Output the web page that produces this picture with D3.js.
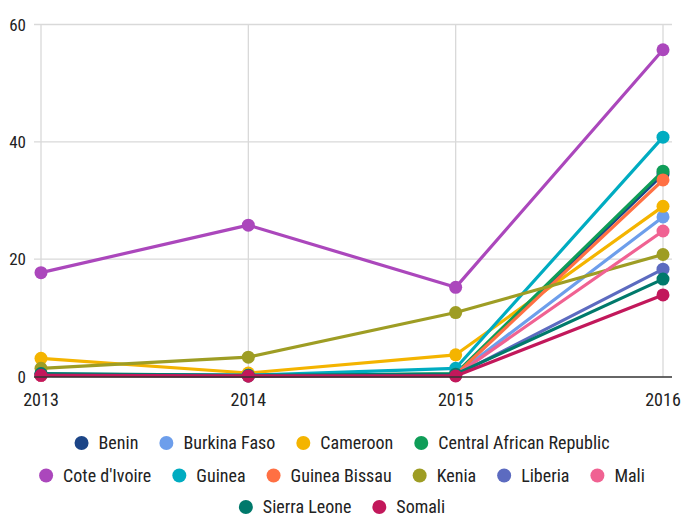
<!DOCTYPE html>
<html>
<head>
<meta charset="utf-8">
<script src="https://cdn.jsdelivr.net/npm/d3@7"></script>
<style>
  body { margin: 0; background: #fff; }
  svg text { font-family: "Roboto Condensed", "Liberation Sans Narrow", "DejaVu Sans Condensed", Roboto, sans-serif; fill: #222; }
</style>
</head>
<body>
<svg width="684" height="518" class="chart"></svg>
<script>

var years = [2013, 2014, 2015, 2016];
var yTicks = [0, 20, 40, 60];

var countries = ["Benin", "Burkina Faso", "Cameroon", "Central African Republic",
    "Cote d'Ivoire", "Guinea", "Guinea Bissau", "Kenia", "Liberia", "Mali",
    "Sierra Leone", "Somali"];

var colors = ["#1c4587", "#6d9eeb", "#f4b400", "#0f9d58", "#ab47bc", "#00acc1",
    "#ff7043", "#9e9d24", "#5c6bc0", "#f06292", "#00796b", "#c2185b"];

var benin          = [0.3, 0.2, 0.3, 34.5];
var burkinaFaso    = [0.2, 0.1, 0.3, 27.2];
var cameroon       = [3.1, 0.6, 3.7, 29.0];
var centralAfrica  = [0.3, 0.1, 0.5, 35.0];
var coteDIvoire    = [17.7, 25.8, 15.2, 55.7];
var guinea         = [0.4, 0.2, 1.4, 40.8];
var guineaBissau   = [0.2, 0.1, 0.3, 33.5];
var kenia          = [1.4, 3.3, 10.9, 20.8];
var liberia        = [0.3, 0.1, 0.2, 18.3];
var mali           = [0.2, 0.1, 0.2, 24.8];
var sierraLeone    = [0.5, 0.2, 0.4, 16.6];
var somali         = [0.2, 0.1, 0.1, 13.9];

var values = [benin, burkinaFaso, cameroon, centralAfrica, coteDIvoire, guinea,
    guineaBissau, kenia, liberia, mali, sierraLeone, somali];

var series = countries.map(function(c, i){
    return { name: c, color: colors[i], points: values[i].map(function(v, j){ return { year: years[j], value: v } }) }
})

var svg = d3.select("svg.chart");

var x = d3.scaleLinear().domain([2013, 2016]).range([41, 663]);
var y = d3.scaleLinear().domain([0, 60]).range([376.5, 24.5]);

var gridLeft = 34, gridRight = 672;

// horizontal grid
svg.append("g").selectAll("line")
    .data(yTicks.filter(function(d){ return d > 0 }))
    .enter().append("line")
    .attr("x1", gridLeft).attr("x2", gridRight)
    .attr("y1", function(d){ return y(d) }).attr("y2", function(d){ return y(d) })
    .attr("stroke", "#d9d9d9").attr("stroke-width", 1.3);

// vertical grid
svg.append("g").selectAll("line")
    .data(years)
    .enter().append("line")
    .attr("x1", function(d){ return x(d) }).attr("x2", function(d){ return x(d) })
    .attr("y1", y(60)).attr("y2", y(0))
    .attr("stroke", "#d9d9d9").attr("stroke-width", 1.3);

// y labels
svg.append("g").selectAll("text")
    .data(yTicks)
    .enter().append("text")
    .attr("x", 26)
    .attr("y", function(d){ return y(d) })
    .attr("dy", "0.36em")
    .attr("text-anchor", "end")
    .style("font-size", "17px")
    .text(function(d){ return d });

// x labels
svg.append("g").selectAll("text")
    .data(years)
    .enter().append("text")
    .attr("x", function(d){ return x(d) })
    .attr("y", 406)
    .attr("text-anchor", "middle")
    .style("font-size", "18px")
    .text(function(d){ return d });

var line = d3.line()
    .x(function(d){ return x(d.year) })
    .y(function(d){ return y(d.value) });

var g = svg.append("g");
series.forEach(function(s){
    var sg = g.append("g");
    sg.append("path")
        .datum(s.points)
        .attr("fill", "none")
        .attr("stroke", s.color)
        .attr("stroke-width", 3.2)
        .attr("stroke-linejoin", "round")
        .attr("d", line);
    sg.selectAll("circle")
        .data(s.points)
        .enter().append("circle")
        .attr("cx", function(d){ return x(d.year) })
        .attr("cy", function(d){ return y(d.value) })
        .attr("r", 6.5)
        .attr("fill", s.color);
});

// baseline
svg.append("line")
    .attr("x1", gridLeft).attr("x2", gridRight)
    .attr("y1", y(0) + 0.5).attr("y2", y(0) + 0.5)
    .attr("stroke", "#333").attr("stroke-width", 1.3);

// legend
var legendRows = [[0, 1, 2, 3], [4, 5, 6, 7, 8, 9], [10, 11]];
var rowY = [443, 475.5, 507];
var legend = svg.append("g");
var r = 7, textGap = 10, itemGap = 21;

legendRows.forEach(function(row, ri){
    var items = row.map(function(i){
        var t = legend.append("text")
            .style("font-size", "18px")
            .attr("dy", "0.35em")
            .attr("y", rowY[ri])
            .text(countries[i]);
        return { i: i, t: t, w: t.node().getComputedTextLength() };
    });
    var total = d3.sum(items, function(d){ return 2 * r + textGap + d.w }) + itemGap * (items.length - 1);
    var cx = 342 - total / 2;
    items.forEach(function(d){
        legend.append("circle")
            .attr("cx", cx + r).attr("cy", rowY[ri])
            .attr("r", r).attr("fill", colors[d.i]);
        d.t.attr("x", cx + 2 * r + textGap);
        cx += 2 * r + textGap + d.w + itemGap;
    });
});

</script>
</body>
</html>
